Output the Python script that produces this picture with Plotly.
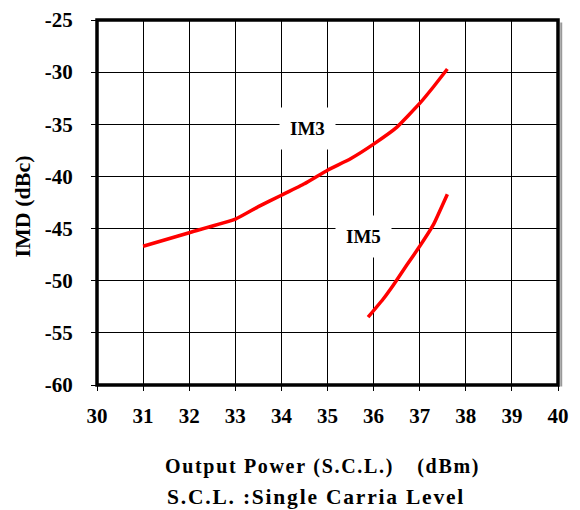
import plotly.graph_objects as go

im3_x = [31.0, 32.0, 33.0, 33.5, 34.0, 34.5, 35.0, 35.5, 36.0, 36.5, 37.0, 37.3, 37.6]
im3_y = [-46.7, -45.4, -44.1, -42.9, -41.8, -40.7, -39.4, -38.3, -36.9, -35.3, -33.0, -31.4, -29.7]
im5_x = [35.88, 36.2, 36.43, 36.72, 37.0, 37.3, 37.6]
im5_y = [-53.5, -51.8, -50.4, -48.5, -46.7, -44.6, -41.7]

x_ticks = list(range(30, 41))
y_ticks = list(range(-60, -24, 5))

font_fam = "Liberation Serif"


def spaced(s, sp="\u200a"):
    return sp.join(list(s))


fig = go.Figure()
for xs, ys in ((im3_x, im3_y), (im5_x, im5_y)):
    fig.add_trace(go.Scatter(x=xs, y=ys, mode="lines",
                             line=dict(color="#ff0000", width=3.5, shape="spline", smoothing=0.3),
                             showlegend=False, hoverinfo="skip"))

axis_common = dict(
    showgrid=True, gridcolor="black", gridwidth=1,
    showline=False, zeroline=False, automargin=False,
    ticks="outside", ticklen=5, tickcolor="black", tickwidth=1,
    tickfont=dict(family=font_fam, size=21, color="black"),
    ticklabeloverflow="allow",
)

fig.update_xaxes(range=[30, 40], tickvals=x_ticks, ticktext=["<b>%d</b>" % v for v in x_ticks],
                 ticklabelstandoff=7, **axis_common)
fig.update_yaxes(range=[-60, -25], tickvals=y_ticks, ticktext=["<b>%d</b>" % v for v in y_ticks],
                 ticklabelstandoff=14, **axis_common)

fig.update_layout(
    width=580, height=510,
    margin=dict(l=89, r=30, t=12, b=133),
    paper_bgcolor="white", plot_bgcolor="white",
)

# frame shadow and border
fig.add_shape(type="line", xref="paper", yref="paper", x0=1.007, x1=1.007, y0=-0.004, y1=0.993, line=dict(color="#999999", width=2))
fig.add_shape(type="rect", xref="paper", yref="paper", x0=0, x1=1, y0=0, y1=1, line=dict(color="black", width=3.5))

# y title
fig.add_annotation(x=-0.162, y=0.49, xref="paper", yref="paper", showarrow=False, textangle=-90,
                   xanchor="center", yanchor="middle",
                   text="<b>IMD (dBc)</b>", font=dict(family=font_fam, size=22, color="black"))

fig.add_annotation(x=34.56, y=-35.44, text="<b>IM3</b>", showarrow=False, xref="x", yref="y",
                   font=dict(family=font_fam, size=19, color="black"),
                   bgcolor="white", borderpad=10)
fig.add_annotation(x=35.79, y=-45.78, text="<b>IM5</b>", showarrow=False, xref="x", yref="y",
                   font=dict(family=font_fam, size=19, color="black"),
                   bgcolor="white", borderpad=10)

fig.add_annotation(x=0.487, y=-0.222, xref="paper", yref="paper", showarrow=False, yanchor="middle",
                   text="<b>" + spaced("Output Power (S.C.L.)") + "\u2002\u2002 " + spaced("(dBm)") + "</b>",
                   font=dict(family=font_fam, size=20, color="black"))
fig.add_annotation(x=0.473, y=-0.307, xref="paper", yref="paper", showarrow=False, yanchor="middle",
                   text="<b>" + spaced("S.C.L. :Single Carria Level") + "</b>",
                   font=dict(family=font_fam, size=21.5, color="black"))

fig.write_html("out.html")
